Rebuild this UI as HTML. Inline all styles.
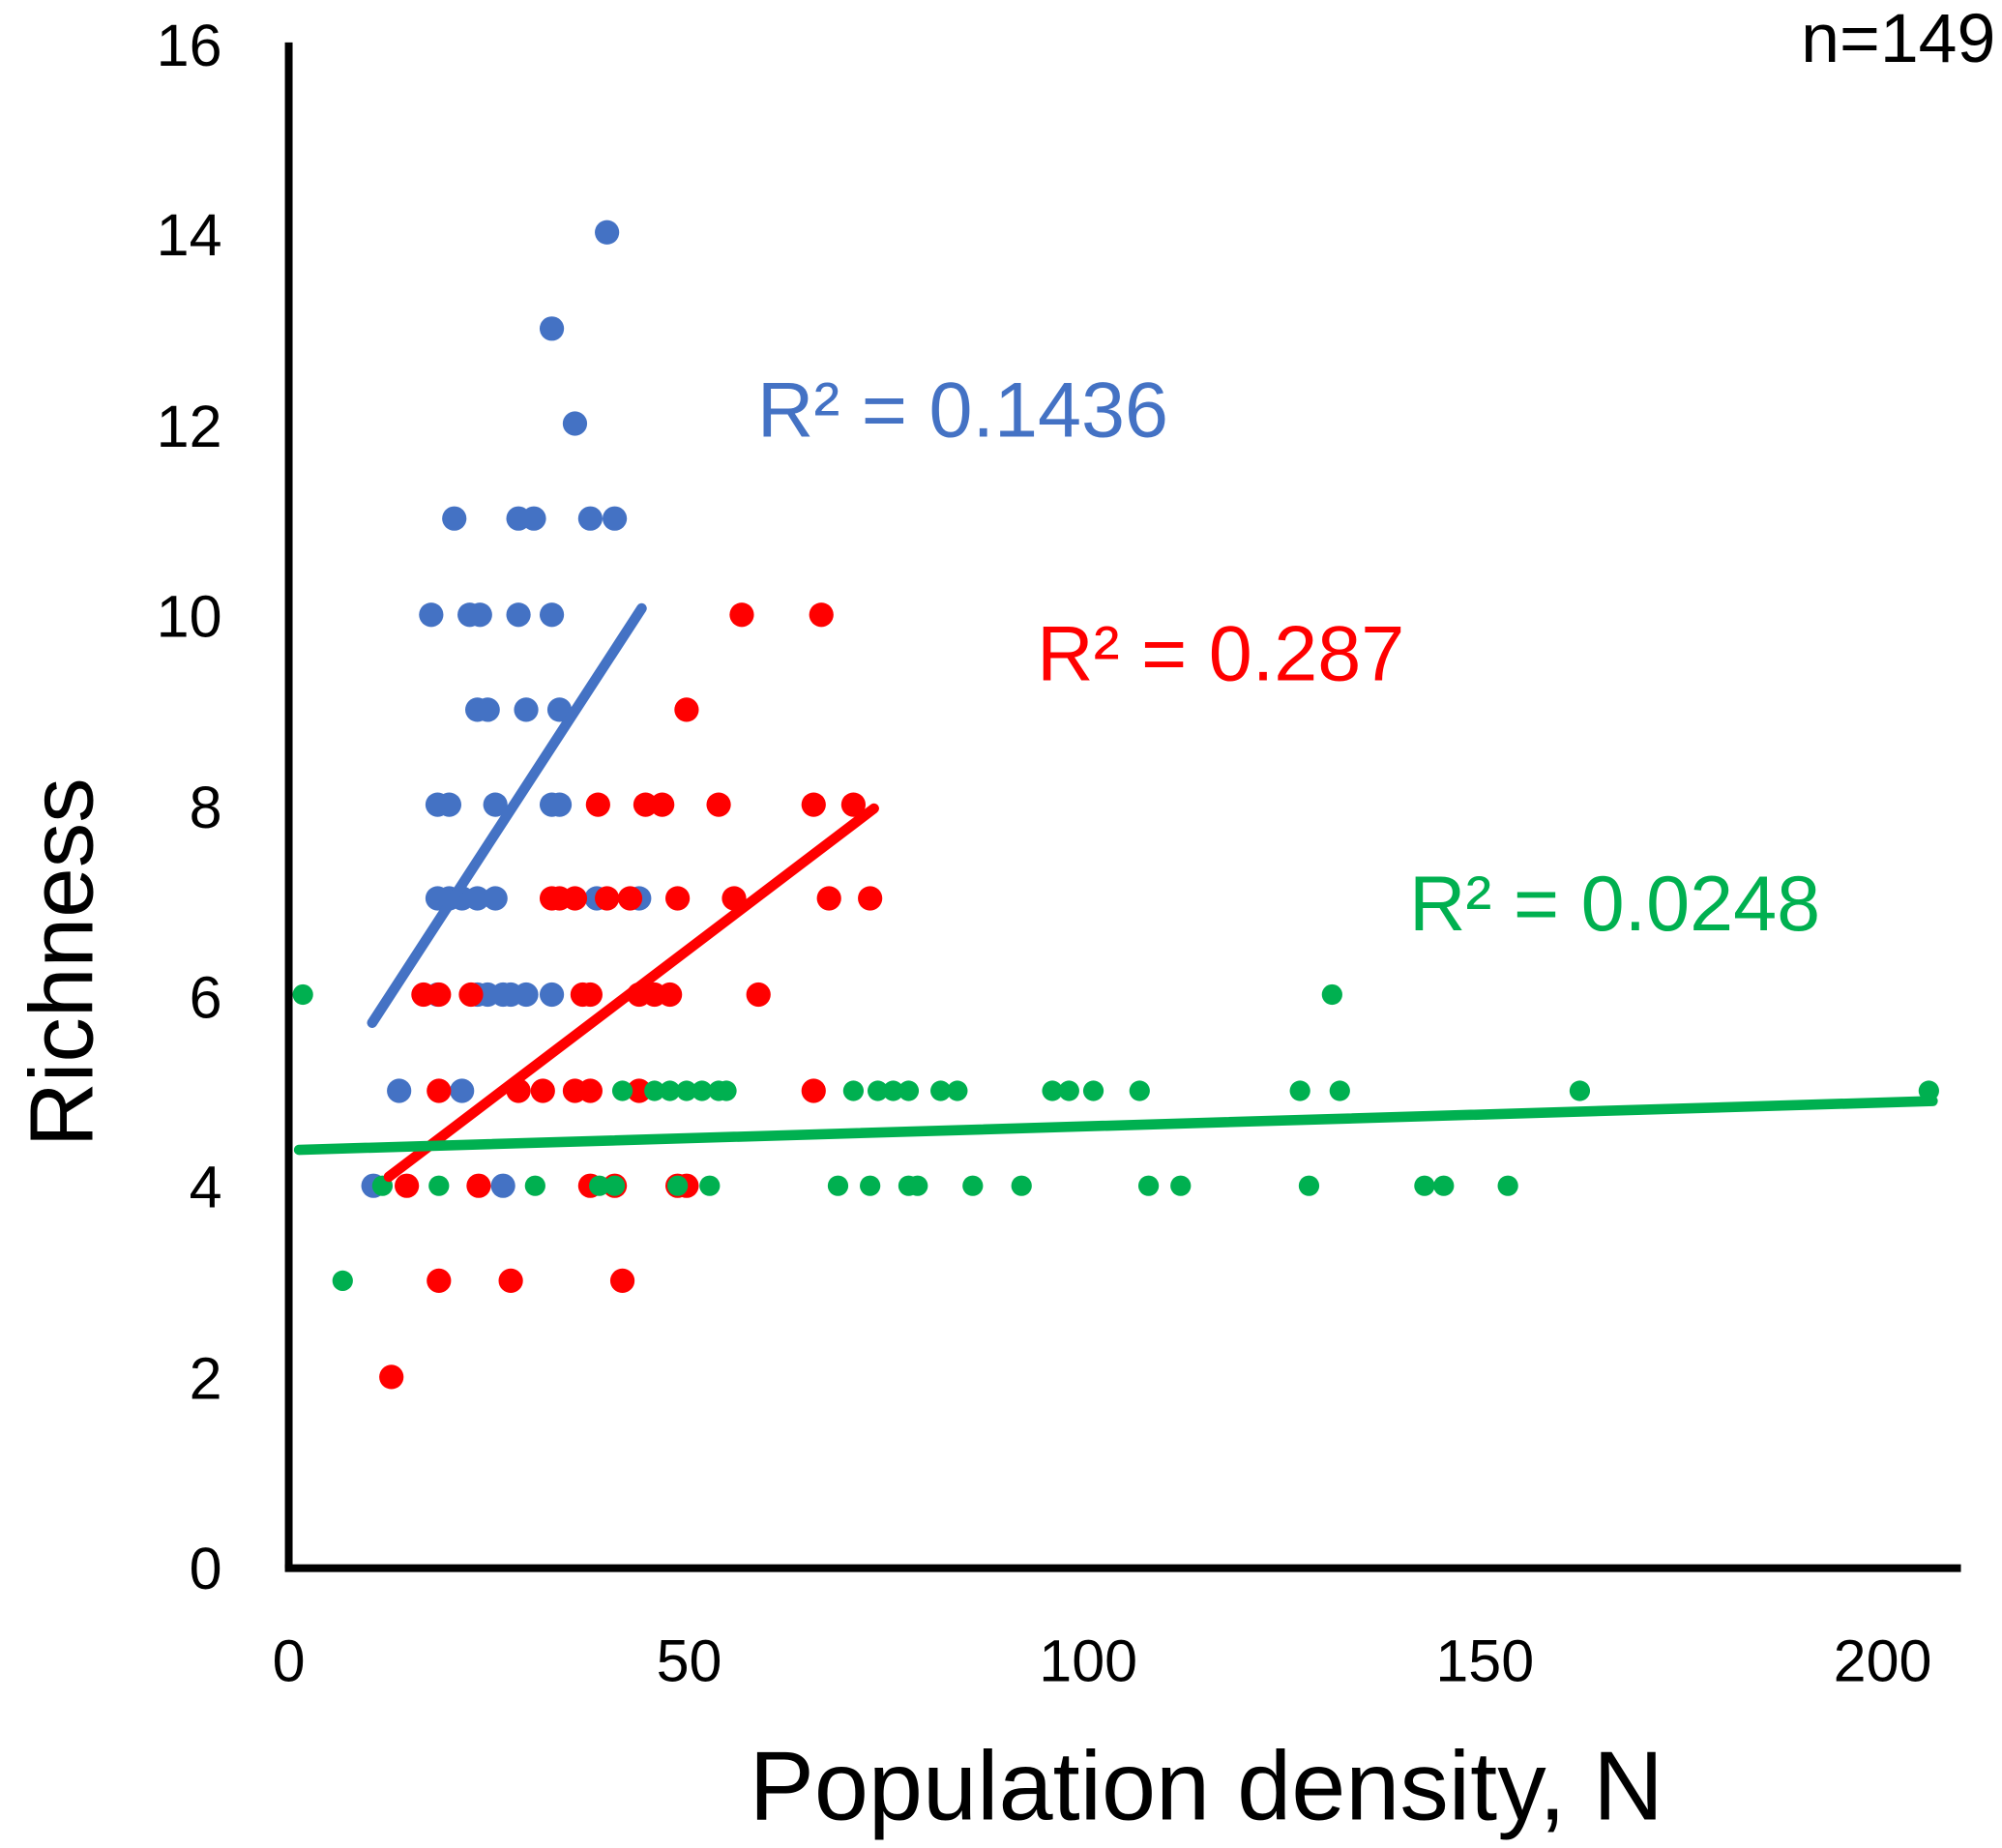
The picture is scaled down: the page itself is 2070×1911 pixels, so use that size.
<!DOCTYPE html>
<html><head><meta charset="utf-8"><style>
html,body{margin:0;padding:0;background:#fff}
svg{display:block}
text{font-family:"Liberation Sans","DejaVu Sans",sans-serif}
</style></head><body>
<svg width="2070" height="1911" viewBox="0 0 1560 1440" xmlns="http://www.w3.org/2000/svg">
<rect width="1560" height="1440" fill="#fff"/>
<g fill="#4472C4">
<circle cx="291" cy="924" r="9.5"/><circle cx="311" cy="850" r="9.5"/><circle cx="392" cy="924" r="9.5"/><circle cx="360" cy="850" r="9.5"/>
<circle cx="341" cy="775" r="9.5"/><circle cx="372" cy="775" r="9.5"/><circle cx="380" cy="775" r="9.5"/><circle cx="392" cy="775" r="9.5"/><circle cx="398" cy="775" r="9.5"/><circle cx="410" cy="775" r="9.5"/><circle cx="430" cy="775" r="9.5"/>
<circle cx="341" cy="700" r="9.5"/><circle cx="350" cy="700" r="9.5"/><circle cx="360" cy="700" r="9.5"/><circle cx="372" cy="700" r="9.5"/><circle cx="386" cy="700" r="9.5"/><circle cx="465" cy="700" r="9.5"/><circle cx="498" cy="700" r="9.5"/>
<circle cx="341" cy="627" r="9.5"/><circle cx="350" cy="627" r="9.5"/><circle cx="386" cy="627" r="9.5"/><circle cx="430" cy="627" r="9.5"/><circle cx="436" cy="627" r="9.5"/>
<circle cx="372" cy="553" r="9.5"/><circle cx="380" cy="553" r="9.5"/><circle cx="410" cy="553" r="9.5"/><circle cx="436" cy="553" r="9.5"/>
<circle cx="336" cy="479" r="9.5"/><circle cx="366" cy="479" r="9.5"/><circle cx="374" cy="479" r="9.5"/><circle cx="404" cy="479" r="9.5"/><circle cx="430" cy="479" r="9.5"/>
<circle cx="354" cy="404" r="9.5"/><circle cx="404" cy="404" r="9.5"/><circle cx="416" cy="404" r="9.5"/><circle cx="460" cy="404" r="9.5"/><circle cx="479" cy="404" r="9.5"/>
<circle cx="448" cy="330" r="9.5"/><circle cx="430" cy="256" r="9.5"/><circle cx="473" cy="181" r="9.5"/>
</g>
<g fill="#FF0000">
<circle cx="305" cy="1073" r="9.5"/><circle cx="342" cy="998" r="9.5"/><circle cx="398" cy="998" r="9.5"/><circle cx="485" cy="998" r="9.5"/>
<circle cx="317" cy="924" r="9.5"/><circle cx="373" cy="924" r="9.5"/><circle cx="460" cy="924" r="9.5"/><circle cx="479" cy="924" r="9.5"/><circle cx="528" cy="924" r="9.5"/><circle cx="535" cy="924" r="9.5"/>
<circle cx="342" cy="850" r="9.5"/><circle cx="404" cy="850" r="9.5"/><circle cx="423" cy="850" r="9.5"/><circle cx="448" cy="850" r="9.5"/><circle cx="460" cy="850" r="9.5"/><circle cx="498" cy="850" r="9.5"/><circle cx="634" cy="850" r="9.5"/>
<circle cx="330" cy="775" r="9.5"/><circle cx="342" cy="775" r="9.5"/><circle cx="367" cy="775" r="9.5"/><circle cx="454" cy="775" r="9.5"/><circle cx="460" cy="775" r="9.5"/><circle cx="498" cy="775" r="9.5"/><circle cx="510" cy="775" r="9.5"/><circle cx="522" cy="775" r="9.5"/><circle cx="591" cy="775" r="9.5"/>
<circle cx="430" cy="700" r="9.5"/><circle cx="436" cy="700" r="9.5"/><circle cx="448" cy="700" r="9.5"/><circle cx="473" cy="700" r="9.5"/><circle cx="491" cy="700" r="9.5"/><circle cx="528" cy="700" r="9.5"/><circle cx="572" cy="700" r="9.5"/><circle cx="646" cy="700" r="9.5"/><circle cx="678" cy="700" r="9.5"/>
<circle cx="466" cy="627" r="9.5"/><circle cx="503" cy="627" r="9.5"/><circle cx="516" cy="627" r="9.5"/><circle cx="560" cy="627" r="9.5"/><circle cx="634" cy="627" r="9.5"/><circle cx="665" cy="627" r="9.5"/>
<circle cx="535" cy="553" r="9.5"/><circle cx="578" cy="479" r="9.5"/><circle cx="640" cy="479" r="9.5"/>
</g>
<g fill="#00B050">
<circle cx="236" cy="775" r="8"/><circle cx="1038" cy="775" r="8"/><circle cx="267" cy="998" r="8"/>
<circle cx="298" cy="924" r="8"/><circle cx="342" cy="924" r="8"/><circle cx="417" cy="924" r="8"/><circle cx="467" cy="924" r="8"/><circle cx="479" cy="924" r="8"/><circle cx="528" cy="924" r="8"/><circle cx="553" cy="924" r="8"/><circle cx="653" cy="924" r="8"/><circle cx="678" cy="924" r="8"/><circle cx="708" cy="924" r="8"/><circle cx="715" cy="924" r="8"/><circle cx="758" cy="924" r="8"/><circle cx="796" cy="924" r="8"/><circle cx="895" cy="924" r="8"/><circle cx="920" cy="924" r="8"/><circle cx="1020" cy="924" r="8"/><circle cx="1110" cy="924" r="8"/><circle cx="1125" cy="924" r="8"/><circle cx="1175" cy="924" r="8"/>
<circle cx="485" cy="850" r="8"/><circle cx="510" cy="850" r="8"/><circle cx="522" cy="850" r="8"/><circle cx="535" cy="850" r="8"/><circle cx="547" cy="850" r="8"/><circle cx="560" cy="850" r="8"/><circle cx="566" cy="850" r="8"/><circle cx="665" cy="850" r="8"/><circle cx="684" cy="850" r="8"/><circle cx="696" cy="850" r="8"/><circle cx="708" cy="850" r="8"/><circle cx="733" cy="850" r="8"/><circle cx="746" cy="850" r="8"/><circle cx="820" cy="850" r="8"/><circle cx="833" cy="850" r="8"/><circle cx="852" cy="850" r="8"/><circle cx="888" cy="850" r="8"/><circle cx="1013" cy="850" r="8"/><circle cx="1044" cy="850" r="8"/><circle cx="1231" cy="850" r="8"/><circle cx="1503" cy="850" r="8"/>
</g>
<line x1="290" y1="797" x2="500" y2="474" stroke="#4472C4" stroke-width="8" stroke-linecap="round"/>
<line x1="303" y1="917" x2="681" y2="630" stroke="#FF0000" stroke-width="8" stroke-linecap="round"/>
<line x1="233" y1="896" x2="1506" y2="858" stroke="#00B050" stroke-width="8" stroke-linecap="round"/>
<line x1="225" y1="33" x2="225" y2="1222" stroke="#000" stroke-width="6"/>
<line x1="222" y1="1222" x2="1528" y2="1222" stroke="#000" stroke-width="6"/>
<g font-size="46" text-anchor="end" fill="#000">
<text x="173" y="1238">0</text><text x="173" y="1090">2</text><text x="173" y="941">4</text><text x="173" y="793">6</text>
<text x="173" y="645">8</text><text x="173" y="496">10</text><text x="173" y="348">12</text><text x="173" y="199">14</text><text x="173" y="51">16</text>
</g>
<g font-size="46" text-anchor="middle" fill="#000">
<text x="225" y="1310">0</text><text x="537" y="1310">50</text><text x="848" y="1310">100</text><text x="1157" y="1310">150</text><text x="1467" y="1310">200</text>
</g>
<text x="940" y="1418" font-size="76" text-anchor="middle">Population density, N</text>
<text transform="translate(72,750) rotate(-90)" font-size="70" text-anchor="middle">Richness</text>
<text x="1555" y="48" font-size="54" text-anchor="end">n=149</text>
<text x="590" y="340" font-size="61" fill="#4472C4">R² = 0.1436</text>
<text x="808" y="530" font-size="61" fill="#FF0000">R² = 0.287</text>
<text x="1098" y="725" font-size="61" fill="#00B050">R² = 0.0248</text>
</svg>
</body></html>
